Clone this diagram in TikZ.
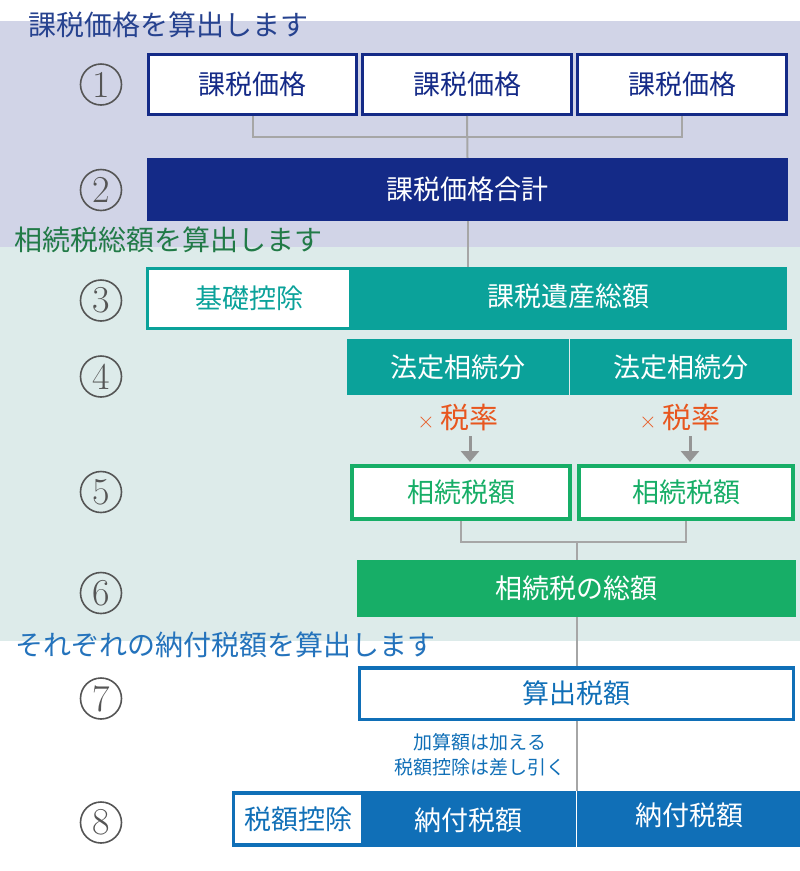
\documentclass[tikz,border=0pt]{standalone}
\usepackage{fontspec}
\newfontfamily\jp{Noto Sans CJK JP}
\usetikzlibrary{arrows.meta}
\definecolor{cLav}{HTML}{D1D4E7}
\definecolor{cMint}{HTML}{DDEBEA}
\definecolor{cNavy}{HTML}{142A87}
\definecolor{cNavyT}{HTML}{26428F}
\definecolor{cTeal}{HTML}{0BA29A}
\definecolor{cGreen}{HTML}{17AE67}
\definecolor{cGreenT}{HTML}{217A47}
\definecolor{cBlue}{HTML}{106FB7}
\definecolor{cBlueT}{HTML}{2473BC}
\definecolor{cOrange}{HTML}{E8561E}
\definecolor{cLine}{HTML}{A6A6A6}
\definecolor{cNum}{HTML}{555555}
\tikzset{
  jpf/.style={font=\jp\fontsize{27}{29}\selectfont},
  title/.style={anchor=west, inner sep=0pt, font=\jp\fontsize{28}{30}\selectfont},
  numc/.style={circle, draw=cNum, line width=1.6pt, minimum size=41pt, inner sep=0pt,
    text=cNum, font=\fontsize{38}{38}\selectfont},
  navybox/.style={jpf, draw=cNavy, line width=3pt, fill=white, text=cNavy,
    minimum width=208pt, minimum height=60pt, inner sep=0pt},
  navyfill/.style={jpf, fill=cNavy, text=white, inner sep=0pt},
  tealfill/.style={jpf, fill=cTeal, text=white, inner sep=0pt},
  greenbox/.style={jpf, draw=cGreen, line width=4pt, fill=white, text=cGreen,
    minimum height=53pt, inner sep=0pt},
  greenfill/.style={jpf, fill=cGreen, text=white, inner sep=0pt},
  bluebox/.style={jpf, draw=cBlue, line width=3.5pt, fill=white, text=cBlue, inner sep=0pt},
  bluefill/.style={jpf, fill=cBlue, text=white, inner sep=0pt},
  conn/.style={draw=cLine, line width=2pt},
  garrow/.style={draw=cLine!90!black, line width=3pt, -{Triangle[width=18pt,length=11pt]}},
  plain/.style={inner sep=0pt}
}
\begin{document}
\begin{tikzpicture}[x=1pt,y=-1pt]
\useasboundingbox (0,0) rectangle (800,871);
\fill[white] (0,0) rectangle (800,871);
\fill[cLav] (0,21) rectangle (800,247);
\fill[cMint] (0,247) rectangle (800,641);

% section titles
\node[title, text=cNavyT] (t1) at (28,25) {課税価格を算出します};
\node[title, text=cGreenT] (t2) at (14,240) {相続税総額を算出します};
\node[title, text=cBlueT] (t3) at (15,645) {それぞれの納付税額を算出します};

% step numbers
\node[numc] (n1) at (101,84.5) {1};
\node[numc] (n2) at (101,190) {2};
\node[numc] (n3) at (101,300.5) {3};
\node[numc] (n4) at (101,376.5) {4};
\node[numc] (n5) at (101,492) {5};
\node[numc] (n6) at (101,593) {6};
\node[numc] (n7) at (101,698.5) {7};
\node[numc] (n8) at (101,822.5) {8};

% row 1
\node[navybox] (b1) at (252.5,84.5) {課税価格};
\node[navybox, minimum width=209pt] (b2) at (467,84.5) {課税価格};
\node[navybox, minimum width=209pt] (b3) at (682,84.5) {課税価格};
\coordinate (j1) at (467,137);
\draw[conn] (b1.south) |- (j1) -| (b3.south);

% row 2
\node[navyfill, minimum width=641pt, minimum height=63pt] (tot) at (467.5,189.5) {課税価格合計};
\draw[conn] (b2.south) -- (tot.north);

% row 3
\node[tealfill, minimum width=641pt, minimum height=63pt] (r3) at (466.5,298.5) {};
\draw[conn] (tot.south) -- (tot.south |- r3.north);
\node[jpf, fill=white, text=cTeal, minimum width=200pt, minimum height=57pt, inner sep=0pt] (kiso) at (249,298.5) {基礎控除};
\node[jpf, text=white, plain] (isan) at (568,296) {課税遺産総額};

% row 4
\node[tealfill, minimum width=222pt, minimum height=56pt] (h1) at (458,367) {法定相続分};
\node[tealfill, minimum width=222pt, minimum height=56pt] (h2) at (681,367) {法定相続分};

\node[plain, text=cOrange] (r1) at (458,418) {{\fontsize{24}{24}\selectfont ×}\hspace{6pt}{\jp\fontsize{29}{30}\selectfont 税率}};
\node[plain, text=cOrange] (r2) at (680,418) {{\fontsize{24}{24}\selectfont ×}\hspace{6pt}{\jp\fontsize{29}{30}\selectfont 税率}};
\coordinate (a1t) at (470,436);
\coordinate (a1h) at (470,462);
\coordinate (a2t) at (690,436);
\coordinate (a2h) at (690,462);
\draw[garrow] (a1t) -- (a1h);
\draw[garrow] (a2t) -- (a2h);

% row 5
\node[greenbox, minimum width=218pt] (k1) at (461,492.5) {相続税額};
\node[greenbox, minimum width=214pt] (k2) at (686,492.5) {相続税額};
\coordinate (j2) at (577,542);
\draw[conn] (k1.south) |- (j2) -| (k2.south);

% row 6
\node[greenfill, minimum width=439pt, minimum height=57pt] (sum) at (576.5,588.5) {相続税の総額};
\draw[conn] (j2) -- (j2 |- sum.north);

% row 7
\node[bluebox, minimum width=434pt, minimum height=51.5pt] (calc) at (576.5,693.5) {算出税額};
\draw[conn] (sum.south -| j2) -- (calc.north -| j2);

\node[plain, text=cBlue, align=center, font=\jp\fontsize{19}{25}\selectfont] (note) at (480,754.5) {加算額は加える\\税額控除は差し引く};

% row 8
\node[bluefill, minimum width=344pt, minimum height=56pt] (p1) at (404,819) {};
\node[bluefill, minimum width=223pt, minimum height=56pt] (p2) at (688.5,819) {};
\draw[conn] (calc.south -| j2) -- (p2.north -| j2);
\node[jpf, fill=white, text=cBlue, minimum width=126pt, minimum height=48pt, inner sep=0pt] (koj) at (298,819) {税額控除};
\node[jpf, text=white, plain] (nofu1) at (468,820) {納付税額};
\node[jpf, text=white, plain] (nofu2) at (689,815) {納付税額};
\end{tikzpicture}
\end{document}
